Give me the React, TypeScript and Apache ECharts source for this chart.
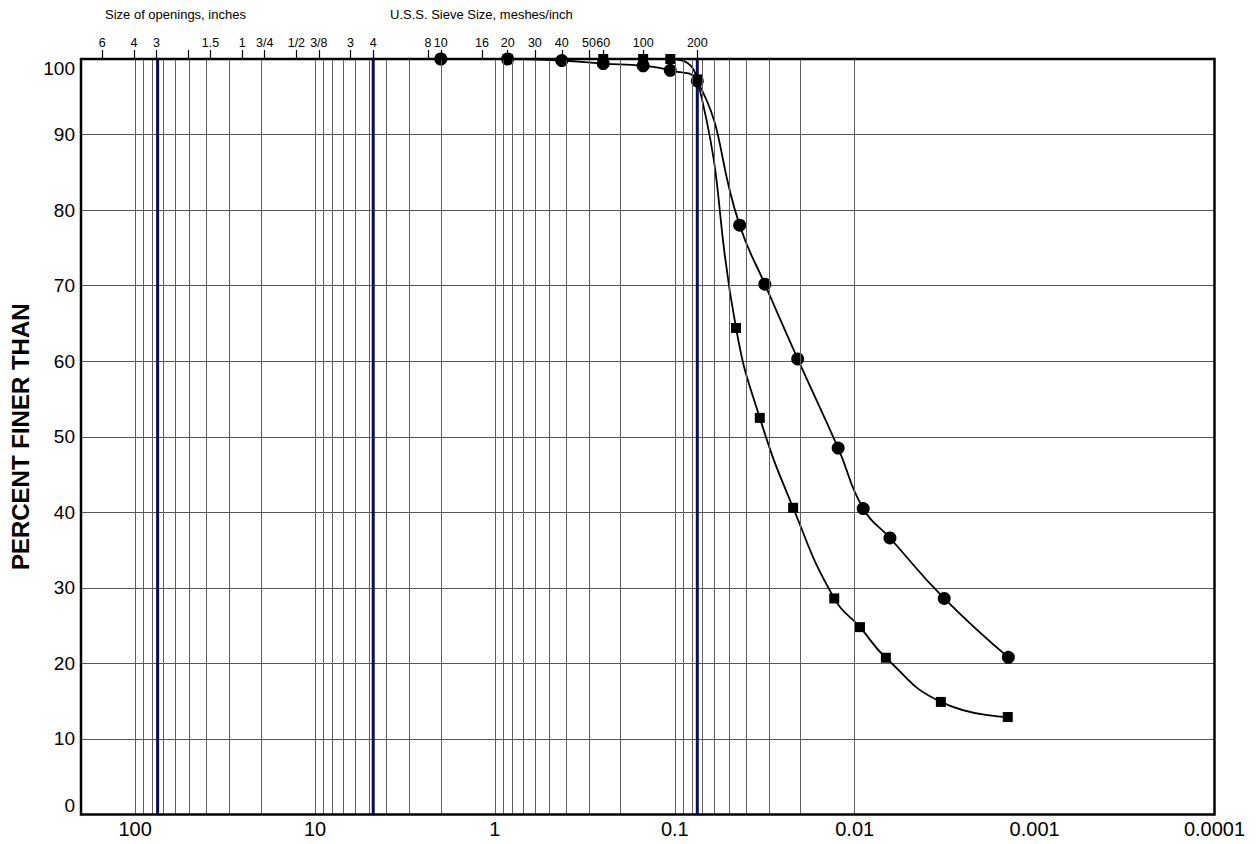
import React, { useEffect, useRef } from "react";
import * as echarts from "echarts";

// Sample 1 (circles): particle diameter (mm) and percent finer
const circleDiameter = [2.0, 0.85, 0.425, 0.25, 0.15, 0.106, 0.075, 0.0436, 0.0316, 0.02075, 0.01236, 0.00897, 0.00637, 0.00318, 0.0014];
const circleFiner = [100, 100, 99.8, 99.4, 99.1, 98.5, 97.1, 78.0, 70.2, 60.3, 48.5, 40.5, 36.6, 28.6, 20.8];

// Sample 2 (squares)
const squareDiameter = [0.85, 0.25, 0.15, 0.106, 0.075, 0.0457, 0.0337, 0.022, 0.013, 0.00935, 0.00671, 0.00332, 0.00141];
const squareFiner = [100, 100, 100, 100, 97.3, 64.4, 52.5, 40.6, 28.6, 24.8, 20.75, 14.9, 12.9];

// Bottom axis (mm)
const bottomTickValues = [100, 10, 1, 0.1, 0.01, 0.001, 0.0001];
const bottomTickLabels = ["100", "10", "1", "0.1", "0.01", "0.001", "0.0001"];

// Top axis: opening sizes in inches and U.S.S. sieve numbers (positions in mm)
const inchMm = [152.4, 101.6, 76.2, 50.8, 38.1, 25.4, 19.05, 12.7, 9.525];
const inchLabels = ["6", "4", "3", "", "1.5", "1", "3/4", "1/2", "3/8"];
const sieveMm = [6.35, 4.75, 2.36, 2.0, 1.18, 0.85, 0.6, 0.425, 0.3, 0.25, 0.15, 0.075];
const sieveLabels = ["3", "4", "8", "10", "16", "20", "30", "40", "50", "60", "100", "200"];

// Heavy reference lines (mm): 3 in, No. 4, No. 200
const boundaryMm = [75, 4.75, 0.075];

// Minor grid decades
const gridDecades = [-4, -3, -2, -1, 0, 1];
const gridMultipliers = [1, 2, 3, 4, 5, 6, 7, 8, 9];

const yTickLabels = ["0", "10", "20", "30", "40", "50", "60", "70", "80", "90", "100"];

const FONT = "Arial, 'Liberation Sans', Helvetica, sans-serif";

function matchLabel(v: number, vals: number[], labels: string[]): string | null {
  for (let i = 0; i < vals.length; i++) {
    if (Math.abs(Math.log10(v) - Math.log10(vals[i])) < 0.002) return labels[i];
  }
  return null;
}

export default function App() {
  const ref = useRef<HTMLDivElement>(null);
  useEffect(() => {
    if (!ref.current) return;
    const chart = echarts.init(ref.current, undefined, { renderer: "svg" });

    const gridValues: number[] = [];
    gridDecades.forEach((d) => {
      gridMultipliers.forEach((m) => {
        gridValues.push(Number((m * Math.pow(10, d)).toPrecision(3)));
      });
    });
    gridValues.push(100);

    const topValues = inchMm.concat(sieveMm);
    const topLabels = inchLabels.concat(sieveLabels);

    const markData: any[] = gridValues.map((v) => ({
      xAxis: v,
      lineStyle: { color: "#606060", width: 1, type: "solid" },
    }));

    const boundarySeries = boundaryMm.map((v, i) => ({
      name: "boundary" + i,
      type: "line",
      xAxisIndex: 0,
      data: [
        [v, 0],
        [v, 100],
      ],
      symbol: "none",
      silent: true,
      lineStyle: { color: "#0a0a5c", width: 3 },
      z: 2,
    }));

    const option: any = {
      animation: false,
      backgroundColor: "#ffffff",
      title: [
        {
          text: "Size of openings, inches",
          left: 105,
          top: 8,
          padding: 0,
          textStyle: { fontSize: 13, fontWeight: "normal", color: "#000", fontFamily: FONT },
        },
        {
          text: "U.S.S. Sieve Size, meshes/inch",
          left: 390,
          top: 8,
          padding: 0,
          textStyle: { fontSize: 13, fontWeight: "normal", color: "#000", fontFamily: FONT },
        },
      ],
      grid: {
        left: 81,
        right: 44.5,
        top: 59,
        bottom: 29.5,
        show: true,
        borderColor: "#000",
        borderWidth: 2.5,
        backgroundColor: "transparent",
        z: 10,
      },
      xAxis: [
        {
          type: "log",
          logBase: 10,
          min: 0.0001,
          max: 200,
          inverse: true,
          position: "bottom",
          axisLine: { show: false },
          axisTick: { show: false },
          splitLine: { show: false },
          minorSplitLine: { show: false },
          axisLabel: {
            fontSize: 20,
            color: "#000",
            fontFamily: FONT,
            margin: 4,
            showMaxLabel: false,
            formatter: (v: number) => matchLabel(v, bottomTickValues, bottomTickLabels) ?? "",
          },
        },
        {
          type: "log",
          logBase: 10,
          min: 0.0001,
          max: 200,
          inverse: true,
          position: "top",
          axisLine: { show: false },
          axisTick: {
            show: true,
            length: 9,
            inside: false,
            customValues: topValues,
            lineStyle: { color: "#000", width: 1.2 },
          },
          splitLine: { show: false },
          axisLabel: {
            fontSize: 12.5,
            color: "#000",
            fontFamily: FONT,
            margin: 10,
            customValues: topValues,
            hideOverlap: false,
            formatter: (v: number) => matchLabel(v, topValues, topLabels) ?? "",
          },
        },
      ],
      yAxis: {
        type: "value",
        min: 0,
        max: 100,
        interval: 10,
        name: "PERCENT FINER THAN",
        nameLocation: "middle",
        nameRotate: 90,
        nameGap: 47,
        nameTextStyle: { fontSize: 24, fontWeight: "bold", color: "#000", fontFamily: FONT },
        axisLine: { show: false },
        axisTick: { show: false },
        splitLine: { show: true, lineStyle: { color: "#555", width: 1 } },
        axisLabel: {
          fontSize: 19,
          color: "#000",
          fontFamily: FONT,
          margin: 6,
          verticalAlignMinLabel: "bottom",
          verticalAlignMaxLabel: "top",
          formatter: (v: number) => yTickLabels[Math.round(v / 10)] ?? "",
        },
      },
      series: [
        {
          name: "grid",
          type: "line",
          xAxisIndex: 0,
          data: [],
          silent: true,
          z: 1,
          markLine: {
            silent: true,
            symbol: ["none", "none"],
            label: { show: false },
            emphasis: { disabled: true },
            animation: false,
            data: markData,
          },
        },
        ...boundarySeries,
        {
          name: "Sample 2",
          type: "line",
          xAxisIndex: 0,
          smooth: 0.5,
          symbol: "rect",
          symbolSize: 10,
          data: squareDiameter.map((d, i) => [d, squareFiner[i]]),
          lineStyle: { color: "#000", width: 1.8 },
          itemStyle: { color: "#000" },
          z: 3,
        },
        {
          name: "Sample 1",
          type: "line",
          xAxisIndex: 0,
          smooth: 0.5,
          symbol: "circle",
          symbolSize: 13,
          data: circleDiameter.map((d, i) => [d, circleFiner[i]]),
          lineStyle: { color: "#000", width: 1.8 },
          itemStyle: { color: "#000" },
          z: 4,
        },
      ],
    };
    chart.setOption(option);
    return () => chart.dispose();
  }, []);
  return (
    <div
      ref={ref}
      style={{ position: "absolute", left: 0, top: 0, width: 1259, height: 844, background: "#fff" }}
    />
  );
}
